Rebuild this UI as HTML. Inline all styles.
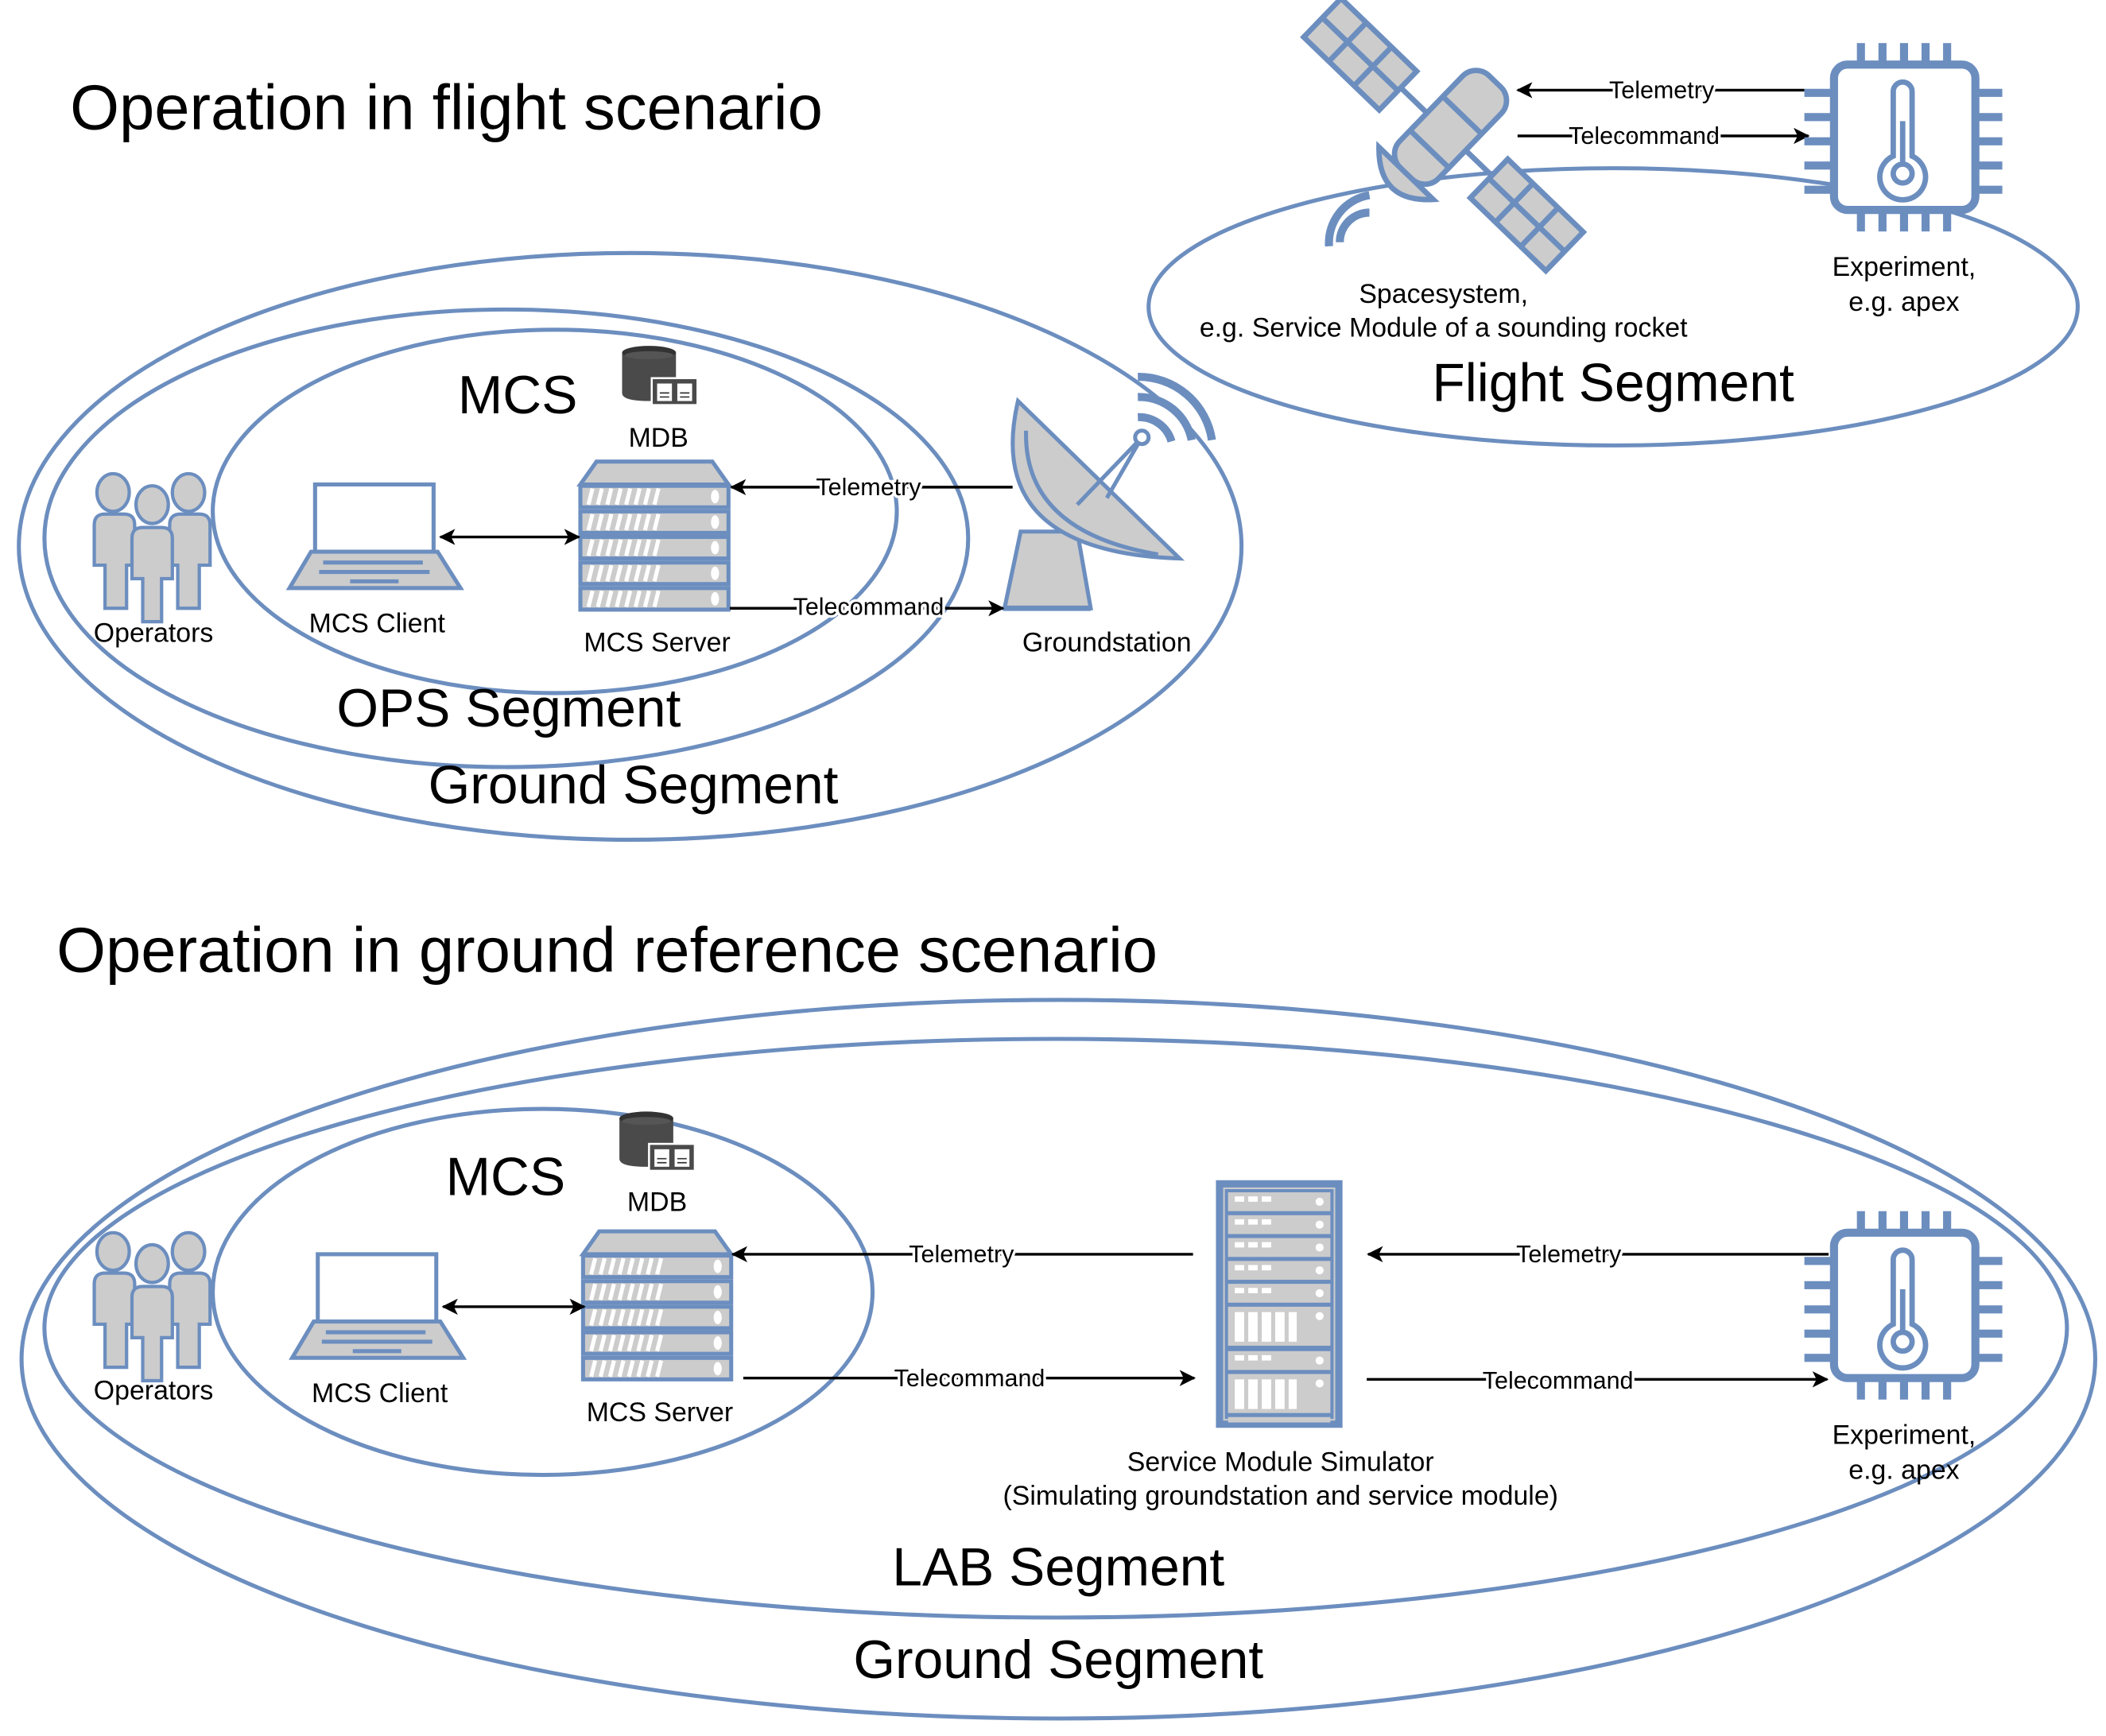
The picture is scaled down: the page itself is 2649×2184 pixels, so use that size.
<!DOCTYPE html>
<html><head><meta charset="utf-8"><style>html,body{margin:0;padding:0;background:#fff}svg{display:block}</style></head>
<body>
<svg width="2649" height="2184" viewBox="0 0 1564 1290" preserveAspectRatio="none" xmlns="http://www.w3.org/2000/svg" font-family="'Liberation Sans', sans-serif">
<defs>
<marker id="ah" viewBox="0 0 12 12" refX="11" refY="6" markerWidth="12" markerHeight="12" markerUnits="userSpaceOnUse" orient="auto-start-reverse"><path d="M0,0 L12,6 L0,12 L3,6 Z" fill="#000"/></marker>
<g id="ops">
 <g fill="#ccc" stroke="#6c8ebf" stroke-width="2.5">
  <ellipse cx="16" cy="16" rx="12" ry="14"/><ellipse cx="72" cy="16" rx="12" ry="14"/>
  <path d="M2,40 q0,-8 8,-8 h14 q8,0 8,8 v30 h-6 v32 h-16 v-32 h-8 z"/>
  <path d="M58,40 q0,-8 8,-8 h14 q8,0 8,8 v30 h-8 v32 h-16 v-32 h-6 z"/>
  <ellipse cx="45" cy="25" rx="12" ry="14"/>
  <path d="M30,50 q0,-8 8,-8 h14 q8,0 8,8 v30 h-8 v32 h-14 v-32 h-8 z"/>
 </g>
</g>
<g id="lap">
 <rect x="19" y="2" width="88" height="50" fill="#fff" stroke="#6c8ebf" stroke-width="3"/>
 <path d="M16,52 h94 l17,27 h-127 z" fill="#ccc" stroke="#6c8ebf" stroke-width="3"/>
 <path d="M25,60 h74 M22,67 h82 M45,74 h36" stroke="#6c8ebf" stroke-width="3"/>
</g>
<g id="srvrow">
 <rect x="0" y="0" width="110" height="16" fill="#ccc" stroke="#6c8ebf" stroke-width="3"/>
 <path d="M6,14 l3,-12 M13,14 l3,-12 M20,14 l3,-12 M27,14 l3,-12 M34,14 l3,-12 M41,14 l3,-12 M48,14 l3,-12 M55,14 l3,-12" stroke="#fff" stroke-width="3"/>
 <ellipse cx="100" cy="8" rx="3" ry="5" fill="#fff"/>
</g>
<g id="srv">
 <path d="M13,1 h86 l12,17 h-110 z" fill="#ccc" stroke="#6c8ebf" stroke-width="3"/>
 <use href="#srvrow" x="1" y="19"/><use href="#srvrow" x="1" y="38"/><use href="#srvrow" x="1" y="57"/><use href="#srvrow" x="1" y="76"/><use href="#srvrow" x="1" y="95"/>
</g>
<g id="mdb">
 <path d="M0,5 v30 q0,6 20,6 q20,0 20,-6 v-30" fill="#4a4a4a"/>
 <ellipse cx="20" cy="5" rx="20" ry="5" fill="#333"/><ellipse cx="20" cy="7" rx="18" ry="3" fill="#555"/>
 <rect x="22" y="24" width="34" height="20" fill="#4a4a4a" stroke="#fff" stroke-width="1.5"/>
 <rect x="26" y="28" width="11" height="13" fill="#fff"/><rect x="41" y="28" width="11" height="13" fill="#fff"/>
 <path d="M28,35 h7 M28,38 h7 M43,35 h7 M43,38 h7" stroke="#333" stroke-width="1"/>
</g>
<g id="chip">
 <g fill="#6c8ebf">
  <rect x="39" y="0" width="6" height="16"/><rect x="55" y="0" width="6" height="16"/><rect x="71" y="0" width="6" height="16"/><rect x="87" y="0" width="6" height="16"/><rect x="103" y="0" width="6" height="16"/>
  <rect x="39" y="124" width="6" height="16"/><rect x="55" y="124" width="6" height="16"/><rect x="71" y="124" width="6" height="16"/><rect x="87" y="124" width="6" height="16"/><rect x="103" y="124" width="6" height="16"/>
  <rect x="0" y="34" width="20" height="6"/><rect x="0" y="52" width="20" height="6"/><rect x="0" y="70" width="20" height="6"/><rect x="0" y="88" width="20" height="6"/><rect x="0" y="106" width="20" height="6"/>
  <rect x="127" y="34" width="20" height="6"/><rect x="127" y="52" width="20" height="6"/><rect x="127" y="70" width="20" height="6"/><rect x="127" y="88" width="20" height="6"/><rect x="127" y="106" width="20" height="6"/>
  <rect x="96" y="46" width="12" height="7"/><rect x="96" y="60" width="12" height="7"/><rect x="96" y="74" width="12" height="7"/><rect x="96" y="88" width="12" height="7"/>
 </g>
 <rect x="22" y="16" width="105" height="108" rx="10" fill="#fff" stroke="#6c8ebf" stroke-width="6"/>
 <path d="M66,84 V36 a7,7 0 0 1 14,0 V84 a17,17 0 1 1 -14,0 z" fill="none" stroke="#6c8ebf" stroke-width="4"/>
 <path d="M73,58 V90" stroke="#6c8ebf" stroke-width="4"/>
 <circle cx="73" cy="97" r="7" fill="none" stroke="#6c8ebf" stroke-width="4"/>
</g>
<g id="ar">
 <rect x="0" y="0" width="76" height="14" fill="#ccc"/>
 <rect x="5" y="3" width="7" height="4" fill="#fff"/><rect x="15" y="3" width="7" height="4" fill="#fff"/><rect x="25" y="3" width="7" height="4" fill="#fff"/><circle cx="68" cy="7" r="3" fill="#fff"/>
</g>
<g id="ar2">
 <rect x="0" y="0" width="76" height="29" fill="#ccc"/>
 <rect x="5" y="4" width="7" height="22" fill="#fff"/><rect x="15" y="4" width="7" height="22" fill="#fff"/><rect x="25" y="4" width="7" height="22" fill="#fff"/><rect x="35" y="4" width="7" height="22" fill="#fff"/><rect x="45" y="4" width="6" height="22" fill="#fff"/><circle cx="68" cy="7" r="3" fill="#fff"/>
</g>
</defs>

<g fill="none" stroke="#6c8ebf" stroke-width="3">
 <ellipse cx="468" cy="406" rx="454" ry="218"/>
 <ellipse cx="376" cy="400" rx="343" ry="170"/>
 <ellipse cx="412" cy="380" rx="254" ry="135"/>
 <ellipse cx="1198" cy="228" rx="345" ry="103"/>
 <ellipse cx="786" cy="1010" rx="770" ry="267"/>
 <ellipse cx="784" cy="987" rx="751" ry="215"/>
 <ellipse cx="403" cy="960" rx="245" ry="136"/>
</g>

<text x="52" y="96" font-size="47">Operation in flight scenario</text>
<text x="42" y="722" font-size="47">Operation in ground reference scenario</text>

<use href="#ops" x="68" y="350"/>
<use href="#lap" x="215" y="358"/>
<use href="#srv" x="430" y="342"/>
<use href="#mdb" x="462" y="257"/>
<g stroke="#6c8ebf" stroke-width="3" fill="#ccc">
 <path d="M758,395 L800,395 L810,452 L746,452 Z"/>
 <path d="M756,298 Q730,410 876,415 Z"/>
 <path d="M762,320 Q760,395 860,412" fill="none"/>
 <path d="M800,375 L848,325 M822,370 L848,325" fill="none"/>
 <circle cx="848" cy="325" r="5" fill="#fff"/>
 <path d="M745,452 h65" stroke-width="4"/>
</g>
<g stroke="#6c8ebf" stroke-width="6" fill="none">
 <path d="M845,310 a25,25 0 0 1 25,18"/><path d="M845,295 a40,40 0 0 1 40,32"/><path d="M845,280 a55,55 0 0 1 55,47"/>
</g>
<text x="280" y="470" font-size="20" text-anchor="middle">MCS Client</text>
<text x="114" y="477" font-size="20" text-anchor="middle">Operators</text>
<text x="488" y="484" font-size="20" text-anchor="middle">MCS Server</text>
<text x="822" y="484" font-size="20" text-anchor="middle">Groundstation</text>
<text x="489" y="332" font-size="20" text-anchor="middle">MDB</text>
<text x="340" y="307" font-size="40">MCS</text>
<text x="250" y="540" font-size="40">OPS Segment</text>
<text x="318" y="597" font-size="40">Ground Segment</text>
<g stroke="#000" stroke-width="2" fill="none">
 <path d="M327,399 H430" marker-start="url(#ah)" marker-end="url(#ah)"/>
 <path d="M752,362 H543" marker-end="url(#ah)"/>
 <path d="M542,452 H745" marker-end="url(#ah)"/>
 <path d="M1340,67 H1127" marker-end="url(#ah)"/>
 <path d="M1127,101 H1343" marker-end="url(#ah)"/>
</g>
<g font-size="18" text-anchor="middle" stroke="#fff" stroke-width="4" paint-order="stroke">
 <text x="645" y="368">Telemetry</text>
 <text x="645" y="457">Telecommand</text>
 <text x="1234" y="73">Telemetry</text>
 <text x="1221" y="107">Telecommand</text>
</g>

<g transform="translate(1072,100) rotate(44)" stroke="#6c8ebf" stroke-width="4" fill="#ccc">
 <rect x="-125" y="-20" width="78" height="40"/>
 <path d="M-99,-20 v40 M-73,-20 v40 M-125,0 h78" fill="none"/>
 <rect x="47" y="-20" width="78" height="40"/>
 <path d="M73,-20 v40 M99,-20 v40 M47,0 h78" fill="none"/>
 <path d="M-47,-3 h94" fill="none"/>
 <rect x="-20" y="-55" width="40" height="95" rx="14"/>
 <path d="M-20,-20 h40 M-20,15 h40" fill="none"/>
 <path d="M-28,40 q28,30 56,0 z"/>
</g>
<g stroke="#6c8ebf" stroke-width="6" fill="none">
 <path d="M1017,158 a22,22 0 0 0 -22,22"/><path d="M1017,145 a36,36 0 0 0 -30,38"/>
</g>
<use href="#chip" x="1340" y="32"/>
<text x="1072" y="225" font-size="20" text-anchor="middle">Spacesystem,</text>
<text x="1072" y="250" font-size="20" text-anchor="middle">e.g. Service Module of a sounding rocket</text>
<text x="1414" y="205" font-size="20" text-anchor="middle">Experiment,</text>
<text x="1414" y="231" font-size="20" text-anchor="middle">e.g. apex</text>
<text x="1198" y="298" font-size="40" text-anchor="middle">Flight Segment</text>

<use href="#ops" x="68" y="914"/>
<use href="#lap" x="217" y="930"/>
<use href="#srv" x="432" y="914"/>
<use href="#mdb" x="460" y="826"/>
<use href="#chip" x="1340" y="900"/>
<g>
 <rect x="903" y="877" width="94" height="184" fill="#6c8ebf"/>
 <rect x="909" y="883" width="82" height="172" fill="none" stroke="#ccc" stroke-width="1.2"/>
 <use href="#ar" x="912" y="886"/><use href="#ar" x="912" y="903"/><use href="#ar" x="912" y="920"/><use href="#ar" x="912" y="937"/><use href="#ar" x="912" y="954"/>
 <use href="#ar2" x="912" y="971"/><use href="#ar" x="912" y="1004"/><use href="#ar2" x="912" y="1021"/>
 <rect x="912" y="1053" width="76" height="4" fill="#ccc"/>
</g>
<text x="114" y="1040" font-size="20" text-anchor="middle">Operators</text>
<text x="282" y="1042" font-size="20" text-anchor="middle">MCS Client</text>
<text x="490" y="1056" font-size="20" text-anchor="middle">MCS Server</text>
<text x="488" y="900" font-size="20" text-anchor="middle">MDB</text>
<text x="331" y="888" font-size="40">MCS</text>
<text x="951" y="1093" font-size="20" text-anchor="middle">Service Module Simulator</text>
<text x="951" y="1118" font-size="20" text-anchor="middle">(Simulating groundstation and service module)</text>
<text x="1414" y="1073" font-size="20" text-anchor="middle">Experiment,</text>
<text x="1414" y="1099" font-size="20" text-anchor="middle">e.g. apex</text>
<text x="786" y="1178" font-size="40" text-anchor="middle">LAB Segment</text>
<text x="786" y="1247" font-size="40" text-anchor="middle">Ground Segment</text>
<g stroke="#000" stroke-width="2" fill="none">
 <path d="M329,971 H434" marker-start="url(#ah)" marker-end="url(#ah)"/>
 <path d="M886,932 H544" marker-end="url(#ah)"/>
 <path d="M552,1024 H887" marker-end="url(#ah)"/>
 <path d="M1358,932 H1016" marker-end="url(#ah)"/>
 <path d="M1015,1025 H1357" marker-end="url(#ah)"/>
</g>
<g font-size="18" text-anchor="middle" stroke="#fff" stroke-width="4" paint-order="stroke">
 <text x="714" y="938">Telemetry</text>
 <text x="720" y="1030">Telecommand</text>
 <text x="1165" y="938">Telemetry</text>
 <text x="1157" y="1032">Telecommand</text>
</g>
</svg>
</body></html>
